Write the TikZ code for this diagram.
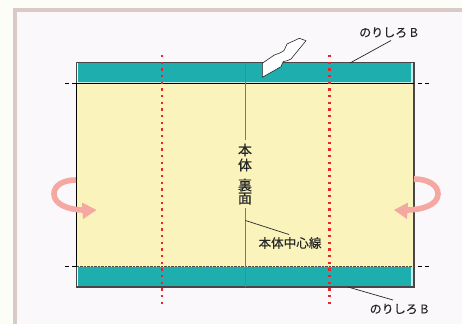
\documentclass[tikz,border=0pt]{standalone}
\usepackage{fontspec}
\setmainfont{Noto Sans CJK JP}[FakeBold=0.35]
\newfontfamily\labelfont{Noto Sans CJK JP}[FakeBold=0.35]
\definecolor{paper}{HTML}{FDFDF8}
\definecolor{inner}{HTML}{FAF8FB}
\definecolor{framec}{HTML}{D9CAC7}
\definecolor{teal}{HTML}{1EAEAE}
\definecolor{cream}{HTML}{FAF4BC}
\definecolor{pinkc}{HTML}{F5A8A2}
\definecolor{redd}{HTML}{E8242C}
\definecolor{edge}{HTML}{4A4648}
\tikzset{
  x=1pt,y=-1pt,
  lbl/.style={inner sep=0pt,font=\labelfont\fontsize{12pt}{13pt}\selectfont,text=black!85},
  lblc/.style={inner sep=0pt,font=\labelfont\fontsize{12.6pt}{13pt}\selectfont,text=black!85},
  vert/.style={inner sep=0pt,font=\labelfont\fontsize{14pt}{14pt}\selectfont,text=black!85},
  leader/.style={draw=black!85,line width=0.7pt},
  redline/.style={draw=redd,line width=2.4pt,dash pattern=on 2.2pt off 4.47pt},
  foldmark/.style={draw=black,line width=0.7pt,dash pattern=on 3.5pt off 3.5pt},
  bendarrow/.style={draw=pinkc,line width=5.6pt},
  bendtip/.style={fill=pinkc,draw=none},
}
\begin{document}
\begin{tikzpicture}
\useasboundingbox (0,0) rectangle (462,324);
\fill[paper] (0,0) rectangle (462,324);
\fill[inner] (14.5,10) rectangle (462,324);
\draw[framec,line width=4pt] (462,10) -- (14.5,10) -- (14.5,324);
% sheet
\fill[white!75!teal] (77.5,63) rectangle (413,287);
\fill[cream] (77,83) rectangle (414,266.5);
\fill[teal] (77.7,63) rectangle (411,82);
\fill[teal] (77.7,267.2) rectangle (411,285.5);
\draw[edge,line width=1.2pt] (76.5,83) -- (76.5,62.5) -- (414,62.5) -- (414,287) -- (76.5,287) -- cycle;
\draw[black,line width=0.8pt] (76.5,83) -- (76.5,266.5);
\draw[black,line width=0.9pt] (76.5,83.2) -- (414,83.2);
\draw[black!70,line width=0.7pt,dash pattern=on 2.5pt off 1pt] (76.5,266.5) -- (414,266.5);
% centre line
\coordinate (ct) at (245.3,63);
\coordinate (cu) at (245.3,140);
\coordinate (cv) at (245.3,208);
\coordinate (cb) at (245.3,287);
\draw[black!50!cream,line width=0.9pt] (ct) -- (cu) (cv) -- (cb);
% red fold lines
\coordinate (r1a) at (162,55);
\coordinate (r1b) at (162,305);
\coordinate (r2a) at (329.3,55);
\coordinate (r2b) at (329.3,305);
\draw[redline] (r1a) -- (r1b);
\draw[redline] (r2a) -- (r2b);
% fold marks
\coordinate (la) at (65,83.3);
\coordinate (lb) at (76,83.3);
\coordinate (ra) at (418,83.3);
\coordinate (rb) at (429,83.3);
\coordinate (lc) at (65,266.5);
\coordinate (ld) at (76,266.5);
\coordinate (rc) at (418,266.5);
\coordinate (rd) at (429,266.5);
\draw[foldmark] (la) -- (lb);
\draw[foldmark] (ra) -- (rb);
\draw[foldmark] (lc) -- (ld);
\draw[foldmark] (rc) -- (rd);
% torn flap
\filldraw[fill=white,draw=black!85,line width=0.6pt,line join=round]
 (262.3,77.3) -- (281,66.7) .. controls (283,64) and (281.5,62.5) .. (283.5,61.5)
 .. controls (286,60.5) and (289,61) .. (291,59) -- (306,40.7) -- (299.3,38.3) -- (287,44)
 .. controls (285,46) and (286,49) .. (284,50.5) .. controls (281,53) and (277,54) .. (274.3,55)
 -- (262.3,63.3) -- cycle;
% labels
\node[lbl] (nb1) at (388.5,32.5) {のりしろ B};
\node[lbl] (nb2) at (399,309) {のりしろ B};
\node[lblc] (nc) at (290,243) {本体中心線};
\node[vert] (t1) at (245,150) {本};
\node[vert] (t2) at (245,165) {体};
\node[vert] (t3) at (245,185) {裏};
\node[vert] (t4) at (245,198.5) {面};
% leaders
\coordinate (l1) at (391,40.5);
\coordinate (l2) at (350,63);
\coordinate (l3) at (393,300);
\coordinate (l4) at (348,287);
\coordinate (l5) at (289,234.5);
\coordinate (l6) at (245.5,220.5);
\draw[leader] (l1) -- (l2);
\draw[leader] (l3) -- (l4);
\draw[leader] (l5) -- (l6);
% pink arrows
\coordinate (pl0) at (76,180);
\coordinate (pl1) at (84,210);
\coordinate (pr0) at (414,179);
\coordinate (pr1) at (406,210);
\draw[bendarrow] (pl0) .. controls (62,180) and (54,186) .. (54,194) .. controls (54,204) and (68,210) .. (pl1);
\fill[bendtip] (82,202.5) -- (96.5,210) -- (83,219) -- cycle;
\draw[bendarrow] (pr0) .. controls (428,179) and (438,185) .. (438,194) .. controls (438,205) and (422,210) .. (pr1);
\fill[bendtip] (408,202.5) -- (394,210) -- (407,219) -- cycle;
\end{tikzpicture}
\end{document}
